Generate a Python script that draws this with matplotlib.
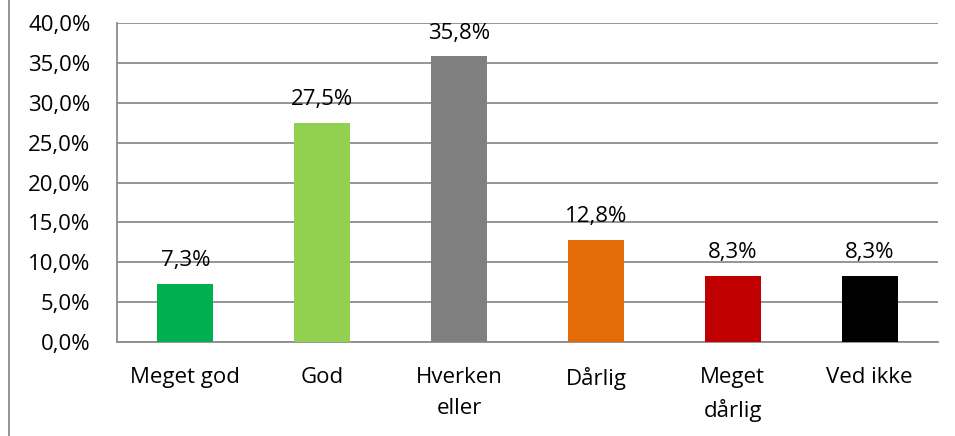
import matplotlib
matplotlib.use("Agg")
import matplotlib.pyplot as plt
from matplotlib.lines import Line2D

categories = ["Meget god", "God", "Hverken\neller", "Dårlig", "Meget\ndårlig", "Ved ikke"]
values = [7.3, 27.5, 35.8, 12.8, 8.3, 8.3]
colors = ["#00B050", "#92D050", "#808080", "#E36C09", "#C00000", "#000000"]
yticks = [0, 5, 10, 15, 20, 25, 30, 35, 40]

plt.rcParams["font.family"] = ["Open Sans", "DejaVu Sans"]
FS = 16

fig = plt.figure(figsize=(9.55, 4.36), dpi=100)
ax = fig.add_axes([117 / 955, 1 - 342 / 436, (938 - 117) / 955, (342 - 23) / 436])

x = range(len(categories))
ax.bar(x, values, width=0.41, color=colors, zorder=3)
for xi, v in zip(x, values):
    ax.annotate(f"{v:.1f}%".replace(".", ","), (xi, v), xytext=(0, 9),
                textcoords="offset points", ha="center", va="bottom",
                fontsize=FS, color="#000000")

ax.set_xlim(-0.5, len(categories) - 0.5)
ax.set_ylim(0, 40)
ax.set_yticks(yticks)
ax.set_yticklabels([f"{t:.1f}%".replace(".", ",") for t in yticks], fontsize=FS)
ax.set_xticks(list(x))
ax.set_xticklabels(categories, fontsize=FS, linespacing=1.6, va="top")
ax.tick_params(axis="y", length=0, pad=19)
ax.tick_params(axis="x", length=0, pad=18)
ax.grid(axis="y", color="#8C8C8C", linewidth=1.3, zorder=0)
for s in ["top", "right"]:
    ax.spines[s].set_visible(False)
for s in ["left", "bottom"]:
    ax.spines[s].set_color("#8C8C8C")
    ax.spines[s].set_linewidth(1.3)

# outer frame line on the left edge
fig.add_artist(Line2D([8.5 / 955, 8.5 / 955], [0, 1], color="#8C8C8C", linewidth=1.3,
                      transform=fig.transFigure))

fig.savefig("out.png", dpi=100)
